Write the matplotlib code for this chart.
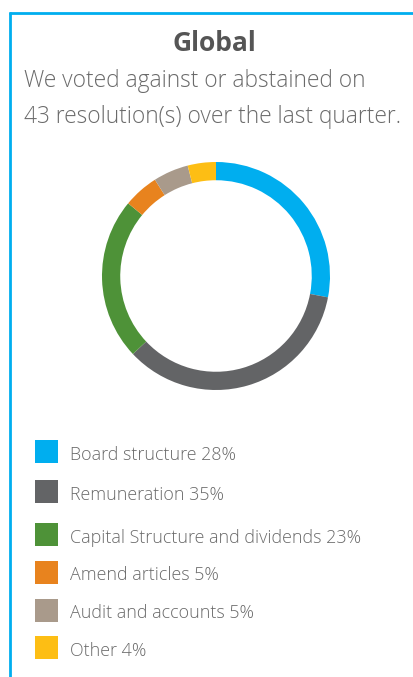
import matplotlib
matplotlib.use("Agg")
import matplotlib.pyplot as plt
from matplotlib.lines import Line2D
from matplotlib.patches import Rectangle

categories = ["Board structure", "Remuneration", "Capital Structure and dividends",
              "Amend articles", "Audit and accounts", "Other"]
values = [28, 35, 23, 5, 5, 4]
colors = ["#00AEEF", "#636466", "#4E9238", "#E8831E", "#A99A8B", "#FDBE14"]

title = "Global"
subtitle = ["We voted against or abstained on", "43 resolution(s) over the last quarter."]

W, H = 414, 677
DPI = 100
fig = plt.figure(figsize=(W / DPI, H / DPI), dpi=DPI)
fig.patch.set_facecolor("white")

def fx(x):
    return x / W

def fy(y):
    return 1 - y / H

# Border lines
border = "#00AEEF"
fig.add_artist(Line2D([fx(9), fx(414)], [fy(12.8), fy(12.8)], color=border, lw=2.0,
                      transform=fig.transFigure, solid_capstyle="butt"))
fig.add_artist(Line2D([fx(10), fx(10)], [fy(11.6), fy(677)], color=border, lw=2.0,
                      transform=fig.transFigure, solid_capstyle="butt"))

font = "Open Sans"
txtcol = "#6a6a6a"
fig.text(fx(214), fy(51), title, ha="center", va="baseline", fontsize=19,
         fontweight="bold", color="#555555", family=font)
fig.text(fx(24), fy(87), subtitle[0], ha="left", va="baseline", fontsize=16.4,
         color=txtcol, family=font, fontweight=300)
fig.text(fx(24), fy(123), subtitle[1], ha="left", va="baseline", fontsize=16.4,
         color=txtcol, family=font, fontweight=300)

# Donut
cx, cy, r = 216, 276, 114
ax = fig.add_axes([fx(cx - r), fy(cy + r), (2 * r) / W, (2 * r) / H])
ax.pie(values, colors=colors, startangle=90, counterclock=False, radius=1.0,
       wedgeprops=dict(width=0.16, linewidth=0))
ax.set_xlim(-1, 1)
ax.set_ylim(-1, 1)
ax.set_aspect("equal")
ax.axis("off")

# Legend
square_top = [440, 480, 523.3, 561, 599, 636]
for cat, val, col, y in zip(categories, values, colors, square_top):
    fig.add_artist(Rectangle((fx(35), fy(y + 22.7)), 22.7 / W, 22.7 / H, color=col,
                             transform=fig.transFigure, lw=0))
    fig.text(fx(70), fy(y + 19.5), f"{cat} {val}%", ha="left", va="baseline",
             fontsize=12.9, color=txtcol, family=font, fontweight=300)

fig.savefig("out.png", dpi=DPI, facecolor="white")
